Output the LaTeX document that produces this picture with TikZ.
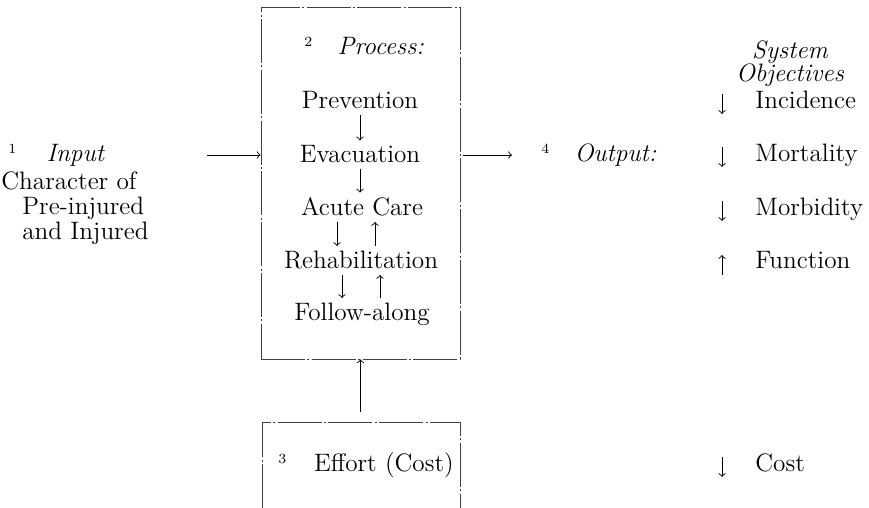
\documentclass[tikz,border=0pt,12pt]{standalone}
\usepackage{amsmath,amssymb}

\tikzset{
  frame/.style={draw=black!75, line width=0.4pt, dash pattern=on 22pt off 1.2pt on 1pt off 1.2pt},
  flow/.style={->, line width=0.45pt},
  lbl/.style={inner sep=2.5pt, anchor=base},
  tag/.style={inner sep=0pt, anchor=base west}
}
\def\fnum#1{\raisebox{4pt}{\fontsize{7pt}{8pt}\selectfont #1}}

\begin{document}
\fontsize{12.6pt}{15pt}\selectfont
\begin{tikzpicture}[x=0.5pt,y=-0.5pt]
\useasboundingbox (0,0) rectangle (869,508);

% process box
\node [frame, minimum width=99.5pt, minimum height=176pt, inner sep=0pt] (proc) at (360.5,183) {};
\node [tag] (proctitle) at (304,55) {\fnum{2}\quad\textit{Process:}};
\node [lbl] (prev) at (360,109) {Prevention};
\node [lbl] (evac) at (360,163) {Evacuation};
\node [lbl] (acute) at (362,216) {Acute Care};
\node [lbl] (rehab) at (361,269) {Rehabilitation};
\node [lbl] (follow) at (362,321) {Follow-along};

\draw [flow] (prev.south) -- (prev.south |- evac.north);
\draw [flow] (evac.south) -- (evac.south |- acute.north);
\draw [flow] ([xshift=-12.5pt]acute.south) -- ([xshift=-12.5pt]acute.south |- rehab.north);
\draw [flow] ([xshift=6.5pt]acute.south |- rehab.north) -- ([xshift=6.5pt]acute.south);
\draw [flow] ([xshift=-9.5pt]rehab.south) -- ([xshift=-9.5pt]rehab.south |- follow.north);
\draw [flow] ([xshift=9.5pt]rehab.south |- follow.north) -- ([xshift=9.5pt]rehab.south);

% input
\node [tag] (intitle) at (8,162) {\fnum{1}\hspace{1.2em}\textit{Input}};
\node [tag] (inchar) at (1,190) {Character of};
\node [tag] (inpre) at (22,215) {Pre-injured};
\node [tag] (inand) at (22,240) {and Injured};
\coordinate (inbeg) at (207,155);
\draw [flow] (inbeg) -- (inbeg -| proc.west);

% output
\coordinate (outend) at (512,155);
\draw [flow] ([xshift=1.5pt]outend -| proc.east) -- (outend);
\node [tag] (outtitle) at (541,162) {\fnum{4}\quad\textit{Output:}};

% objectives
\node [inner sep=0pt, anchor=north, align=center, font=\itshape] (objtitle) at (790,40) {System\\[-3.2pt]Objectives};
\node [tag] (inc) at (755,109) {Incidence};
\node [tag] (mort) at (755,162) {Mortality};
\node [tag] (morb) at (755,216) {Morbidity};
\node [tag] (func) at (755,269) {Function};
\node [tag] (cost) at (755,472) {Cost};
\foreach \n in {inc,mort,morb,cost}
  \draw [flow] ([xshift=-16.5pt,yshift=7.5pt]\n.base west) -- ([xshift=-16.5pt,yshift=-2.5pt]\n.base west);
\draw [flow] ([xshift=-16.5pt,yshift=-3pt]func.base west) -- ([xshift=-16.5pt,yshift=7pt]func.base west);

% effort
\coordinate (effnw) at (262,422);
\coordinate (effne) at (460,422);
\draw [frame] (effnw |- 0,508) -- (effnw) -- (effne) -- (effne |- 0,508);
\node [tag] (efflbl) at (278,471) {\fnum{3}\hspace{1.1em}Effort (Cost)};
\draw [flow] ([yshift=5pt]effnw -| proc.south) -- (proc.south);
\end{tikzpicture}
\end{document}
